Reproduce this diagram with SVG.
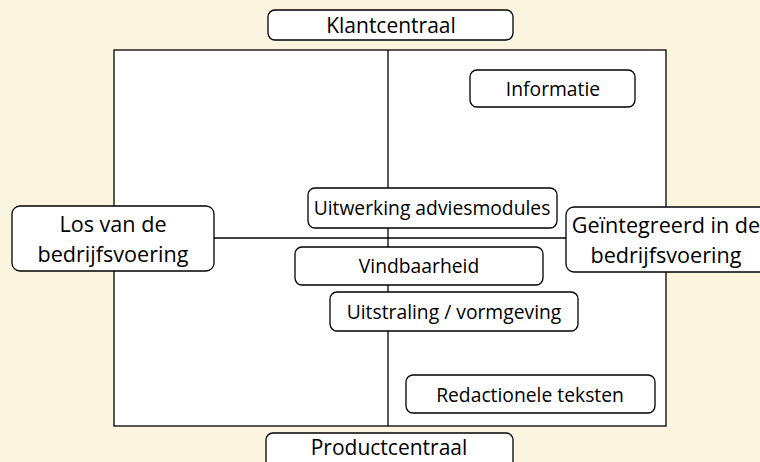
<svg xmlns="http://www.w3.org/2000/svg" width="760" height="462" viewBox="0 0 760 462">
<style>
.bg{fill:#fbf5df}
.frame{fill:#ffffff;stroke:#000;stroke-width:1.3}
.ax{stroke:#000;stroke-width:1.3;fill:none}
.box{fill:#ffffff;stroke:#000;stroke-width:1.3}
.t{font-family:"Open Sans","Noto Sans",sans-serif;font-size:19.3px;fill:#000;text-anchor:middle}
.tl{font-family:"Open Sans","Noto Sans",sans-serif;font-size:21px;fill:#000;text-anchor:middle}
.tx{font-family:"Open Sans","Noto Sans",sans-serif;font-size:21.6px;fill:#000;text-anchor:middle}
</style>
<rect class="bg" x="0" y="0" width="760" height="462"/>
<rect class="frame" x="114" y="50" width="552" height="376"/>
<g id="connectors">
<line class="ax" x1="388" y1="50" x2="388" y2="426"/>
<line class="ax" x1="214" y1="238" x2="566" y2="238"/>
</g>
<g id="klantcentraal"><rect class="box" x="268" y="10" width="245" height="30" rx="7"/><text class="tl" x="391" y="33">Klantcentraal</text></g>
<g id="productcentraal"><rect class="box" x="266" y="433" width="247" height="40" rx="7"/><text class="tl" x="389" y="455">Productcentraal</text></g>
<g id="los"><rect class="box" x="12" y="206" width="202" height="65" rx="8"/><text class="tx" x="113" y="232">Los van de</text><text class="tx" x="113" y="262">bedrijfsvoering</text></g>
<g id="geintegreerd"><rect class="box" x="566" y="207" width="210" height="65" rx="8"/><text class="tx" x="666" y="233">Geïntegreerd in de</text><text class="tx" x="666" y="263">bedrijfsvoering</text></g>
<g id="informatie"><rect class="box" x="470" y="70" width="165" height="37" rx="7"/><text class="t" x="553" y="96">Informatie</text></g>
<g id="uitwerking"><rect class="box" x="308" y="188" width="249" height="40" rx="7"/><text class="t" x="432" y="215">Uitwerking adviesmodules</text></g>
<g id="vindbaarheid"><rect class="box" x="295" y="247" width="248" height="38" rx="7"/><text class="t" x="419" y="273">Vindbaarheid</text></g>
<g id="uitstraling"><rect class="box" x="330" y="292" width="248" height="39" rx="7"/><text class="t" x="454" y="319">Uitstraling / vormgeving</text></g>
<g id="redactionele"><rect class="box" x="406" y="375" width="249" height="38" rx="7"/><text class="t" x="530" y="402">Redactionele teksten</text></g>
</svg>
